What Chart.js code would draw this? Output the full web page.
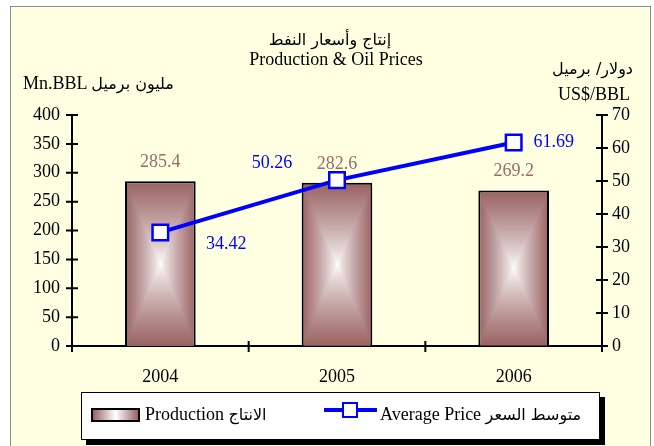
<!DOCTYPE html>
<html>
<head>
<meta charset="utf-8">
<script src="https://cdn.jsdelivr.net/npm/chart.js@4/dist/chart.umd.min.js"></script>
<style>
  html, body { margin: 0; padding: 0; background: #fff; }
  #wrap { position: relative; width: 654px; height: 446px; overflow: hidden;
          font-family: "Liberation Serif", "DejaVu Sans", serif; color: #000; }
  #frame { position: absolute; left: 10px; top: 6px; width: 639px; height: 460px;
           border: 1px solid #8c8c8c; background: #ffffe2; }
  #chart { position: absolute; left: 0; top: 0; }
  .txt { position: absolute; font-size: 18px; line-height: 20px; white-space: nowrap; }
  .ar { font-family: "DejaVu Sans", sans-serif; font-size: 16px; }
  #legend { position: absolute; left: 81px; top: 392px; width: 517px; height: 46px;
            background: #fff; border: 1px solid #000; box-shadow: 5px 5px 0 #000; }
  .sw { position: absolute; top: 15px; left: 9px; width: 45px; height: 10px; border: 2px solid #000;
        background: linear-gradient(to right, #996262, #ffffff 50%, #996262); }
  .ln { position: absolute; top: 15px; left: 242px; width: 53px; height: 4px; background: #0000ff; }
  .mk { position: absolute; top: 9px; left: 260px; width: 12px; height: 12px; border: 2px solid #0000ff; background: #fff; }
</style>
</head>
<body>
<div id="wrap">
  <div id="frame"></div>
  <canvas id="chart" width="654" height="446"></canvas>
  <div class="txt ar" style="left:0;width:660px;text-align:center;top:30px;">إنتاج وأسعار النفط</div>
  <div class="txt" style="left:0;width:672px;text-align:center;top:49px;">Production &amp; Oil Prices</div>
  <div class="txt" style="left:23px;top:73px;">Mn.BBL <span class="ar">مليون برميل</span></div>
  <div class="txt ar" style="right:21px;top:59px;">دولار/ برميل</div>
  <div class="txt" style="right:24px;top:84px;">US$/BBL</div>
  <div id="legend">
    <div class="sw"></div>
    <div class="txt" style="left:63px;top:11px;">Production <span class="ar">الانتاج</span></div>
    <div class="ln"></div>
    <div class="mk"></div>
    <div class="txt" style="left:298px;top:11px;">Average Price <span class="ar">متوسط السعر</span></div>
  </div>
</div>
<script>
// data
const years = ['2004', '2005', '2006'];
const production = [285.4, 282.6, 269.2];
const avgPrice = [34.42, 50.26, 61.69];
const leftTicks = [0, 400, 50];
const rightTicks = [0, 70, 10];

const brown = '#996262';
const labelBrown = '#9b6b6b';
const blue = '#0000ff';
const serif = 'Liberation Serif';

// Excel style "from center" fill for a bar
function centerFill(ctx, el) {
    const w = Math.max(1, Math.round(el.width));
    const top = Math.min(el.y, el.base);
    const h = Math.max(1, Math.round(Math.abs(el.base - el.y)));
    const off = document.createElement('canvas');
    off.width = w; off.height = h;
    const oc = off.getContext('2d');
    const img = oc.createImageData(w, h);
    const e = [0x99, 0x62, 0x62];
    for (let j = 0; j < h; j++) {
        for (let i = 0; i < w; i++) {
            const dx = Math.abs(i + 0.5 - w / 2) / (w / 2);
            const dy = Math.abs(j + 0.5 - h / 2) / (h / 2);
            let t = Math.min(1, Math.max(dx, dy));
            t = Math.pow(t, 0.8);
            const k = (j * w + i) * 4;
            img.data[k] = 255 + (e[0] - 255) * t;
            img.data[k + 1] = 255 + (e[1] - 255) * t;
            img.data[k + 2] = 255 + (e[2] - 255) * t;
            img.data[k + 3] = 255;
        }
    }
    oc.putImageData(img, 0, 0);
    const pat = ctx.createPattern(off, 'no-repeat');
    pat.setTransform(new DOMMatrix([1, 0, 0, 1, el.x - el.width / 2, top]));
    return pat;
}

// ticks crossing the axis lines
const crossTicks = {
    id: 'crossTicks',
    afterDraw(chart) {
        const c = chart.ctx;
        const {x, yL, yR} = chart.scales;
        c.save();
        c.strokeStyle = '#000';
        c.lineWidth = 2;
        c.beginPath();
        [[yL, yL.right], [yR, yR.left]].forEach(([s, ax]) => {
            s.ticks.forEach((t, i) => {
                const py = s.getPixelForTick(i);
                c.moveTo(ax - 6, py); c.lineTo(ax + 6, py);
            });
        });
        const n = years.length;
        for (let k = 0; k <= n; k++) {
            const px = x.left + k * x.width / n;
            c.moveTo(px, x.top - 5); c.lineTo(px, x.top + 6);
        }
        c.stroke();
        c.restore();
    }
};

// value labels
const valueLabels = {
    id: 'valueLabels',
    afterDatasetsDraw(chart) {
        const c = chart.ctx;
        c.save();
        c.font = '18px "' + serif + '"';
        c.textAlign = 'center';
        c.textBaseline = 'middle';
        const bars = chart.getDatasetMeta(1).data;
        c.fillStyle = labelBrown;
        bars.forEach((b, i) => c.fillText(production[i].toFixed(1), b.x, b.y - 19));
        const pts = chart.getDatasetMeta(0).data;
        const shift = [[66, 12], [-65, -17], [40, 0]];
        c.fillStyle = blue;
        pts.forEach((p, i) => c.fillText(avgPrice[i].toFixed(2), p.x + shift[i][0], p.y + shift[i][1]));
        c.restore();
    }
};

const tickFont = {family: serif, size: 18};

const chart = new Chart(document.getElementById('chart'), {
    type: 'bar',
    data: {
        labels: years,
        datasets: [{
            type: 'line',
            label: 'Average Price',
            data: avgPrice,
            yAxisID: 'yR',
            borderColor: blue,
            borderWidth: 4,
            pointStyle: 'rect',
            pointRadius: 11,
            pointBackgroundColor: '#fff',
            pointBorderColor: blue,
            pointBorderWidth: 2.5,
            tension: 0,
            order: 0
        }, {
            label: 'Production',
            data: production,
            yAxisID: 'yL',
            backgroundColor: (c) => (c.element && c.element.width) ? centerFill(c.chart.ctx, c.element) : brown,
            borderColor: '#000',
            borderWidth: 2,
            categoryPercentage: 1,
            barPercentage: 0.4,
            order: 1
        }]
    },
    options: {
        responsive: false,
        animation: false,
        layout: {padding: {top: 115, bottom: 55, left: 0, right: 0}},
        plugins: {legend: {display: false}, tooltip: {enabled: false}, title: {display: false}},
        scales: {
            x: {
                grid: {display: false, drawTicks: false},
                border: {color: '#000', width: 2},
                ticks: {color: '#000', font: tickFont, padding: 20},
                afterFit: (s) => { s.height = 45; }
            },
            yL: {
                position: 'left',
                min: leftTicks[0], max: leftTicks[1],
                grid: {display: false, drawTicks: false},
                border: {color: '#000', width: 2},
                ticks: {stepSize: leftTicks[2], color: '#000', font: tickFont, padding: 12},
                afterFit: (s) => { s.width = 72; }
            },
            yR: {
                position: 'right',
                min: rightTicks[0], max: rightTicks[1],
                grid: {display: false, drawTicks: false},
                border: {color: '#000', width: 2},
                ticks: {stepSize: rightTicks[2], color: '#000', font: tickFont, padding: 10},
                afterFit: (s) => { s.width = 52; }
            }
        }
    },
    plugins: [crossTicks, valueLabels]
});
// second pass so the bar fill can use the bar geometry
chart.update();
</script>
</body>
</html>
